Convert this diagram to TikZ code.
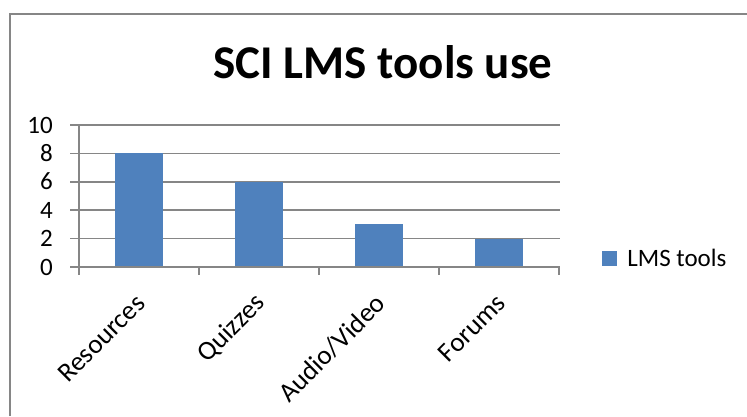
\documentclass[tikz,border=0pt]{standalone}
\usepackage{fontspec}
\setmainfont{Carlito}
\usepackage{xcolor}
\usetikzlibrary{positioning}
\tikzset{font={\fontsize{25pt}{30pt}\selectfont}}
\definecolor{barblue}{HTML}{4F81BD}
\definecolor{gridgray}{HTML}{868686}

\begin{document}
\begin{tikzpicture}[x=1pt,y=-1pt,
    grid/.style={draw=gridgray,line width=1.5pt},
    bar/.style={fill=barblue},
    ticklab/.style={anchor=base east,inner sep=0pt},
    catlab/.style={anchor=east,rotate=45,inner sep=0pt,font={\fontsize{27pt}{32pt}\selectfont}}]
  \useasboundingbox (0,0) rectangle (747,416);

  % Frame
  \draw[gridgray,line width=2pt] (9.5,416) -- (9.5,13.5) -- (747,13.5);

  % Title
  \node[anchor=base,font={\fontsize{47pt}{56pt}\selectfont\bfseries}] (title) at (383,78) {SCI LMS tools use};

  % Grid and value labels
  \foreach \v in {0,2,...,10} {
    \draw[grid] (70,{267-14.2*\v}) -- (560,{267-14.2*\v});
    \node[ticklab] (val\v) at (53,{275-14.2*\v}) {\v};
  }

  % Bars
  \foreach \h [count=\i] in {8,6,3,2}
    \fill[bar] ({120*\i-5},267) rectangle ({120*\i+43},{267-14.2*\h});

  % Axes
  \draw[grid] (79,125) -- (79,267) -- (560,267);
  \foreach \i in {0,...,4}
    \draw[grid] ({79+120*\i},267) -- ({79+120*\i},275);

  % Category labels
  \foreach \name [count=\i] in {Resources,Quizzes,Audio/Video,Forums}
    \node[catlab] (cat\i) at ({21+120*\i},299) {\name};

  % Legend
  \node[fill=barblue,minimum size=15pt,inner sep=0pt] (legkey) at (609.5,258) {};
  \node[right=10pt of legkey,inner sep=0pt] (legtext) {LMS tools};
\end{tikzpicture}
\end{document}
